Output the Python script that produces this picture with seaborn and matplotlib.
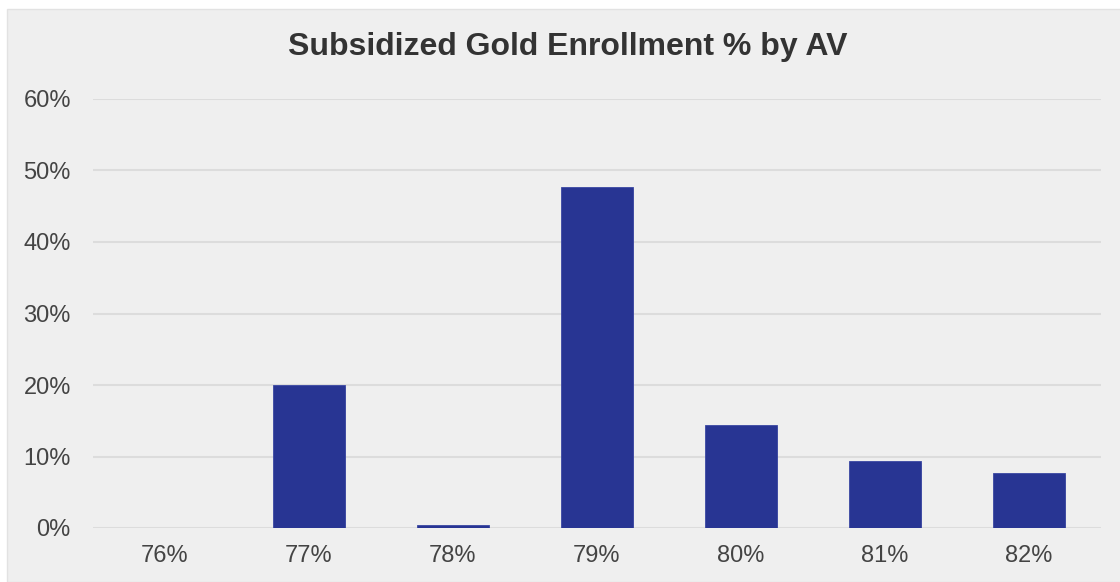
import matplotlib
matplotlib.use("Agg")
import matplotlib.pyplot as plt
import matplotlib.patheffects as pe
from matplotlib.patches import Rectangle
from matplotlib.ticker import PercentFormatter
import seaborn as sns
import pandas as pd

# Actuarial value buckets and share of subsidized gold enrollment
av_levels = ["76%", "77%", "78%", "79%", "80%", "81%", "82%"]
enrollment_share = [0.0, 0.200, 0.004, 0.477, 0.144, 0.094, 0.077]
y_ticks = [0.0, 0.1, 0.2, 0.3, 0.4, 0.5, 0.6]

df = pd.DataFrame({"AV": av_levels, "Share": enrollment_share})

sns.set_theme(style="white")
plt.rcParams["font.family"] = ["Liberation Sans", "DejaVu Sans"]

bg = "#efefef"
fig = plt.figure(figsize=(11.2, 5.82), dpi=100, facecolor="white")
# light panel behind the chart, leaving a thin white margin top and left
panel = Rectangle((7 / 1120, 0), 1, (582 - 9) / 582,
                  transform=fig.transFigure, facecolor=bg,
                  edgecolor="#e2e2e2", linewidth=1, zorder=-10)
fig.add_artist(panel)

ax = fig.add_axes([93 / 1120, 54 / 582, (1101 - 93) / 1120, (528 - 99) / 582])
ax.set_zorder(1)
ax.set_facecolor(bg)

sns.barplot(data=df, x="AV", y="Share", color="#283593", width=0.5,
            saturation=1, linewidth=0.6, edgecolor="#3a47a3", ax=ax, zorder=3)
for bar in ax.patches:
    bar.set_path_effects([pe.SimplePatchShadow(offset=(1.0, -1.5), alpha=0.3),
                          pe.Normal()])

ax.set_xlim(-0.5, len(av_levels) - 0.5)
ax.set_ylim(0, 0.6)
ax.set_yticks(y_ticks)
ax.yaxis.set_major_formatter(PercentFormatter(1.0, decimals=0))
ax.grid(axis="y", color="#dcdcdc", linewidth=1.5, zorder=0)
ax.set_axisbelow(True)
for s in ax.spines.values():
    s.set_visible(False)
ax.tick_params(axis="both", length=0, labelsize=17, labelcolor="#444444")
ax.tick_params(axis="y", pad=16)
ax.tick_params(axis="x", pad=12)
ax.set_xlabel("")
ax.set_ylabel("")

fig.text(568 / 1120, 1 - 47 / 582, "Subsidized Gold Enrollment % by AV",
         ha="center", va="center", fontsize=23, fontweight="bold",
         color="#333333")

fig.savefig("out.png", dpi=100, facecolor="white")
